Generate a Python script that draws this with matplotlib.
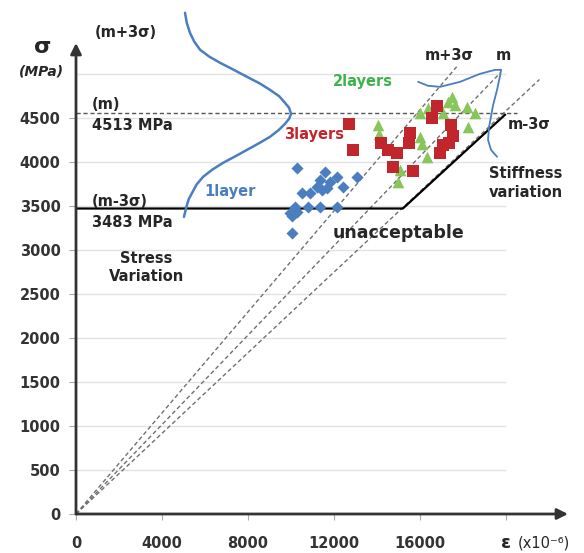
import matplotlib
matplotlib.use("Agg")
import matplotlib.pyplot as plt

# tick values (the 20000 tick carries no label, the axis symbol sits there)
x_ticks = [0, 4000, 8000, 12000, 16000, 20000]
x_tick_labels = ["0", "4000", "8000", "12000", "16000", ""]
y_ticks = [0, 500, 1000, 1500, 2000, 2500, 3000, 3500, 4000, 4500]
grid_levels = [500, 1000, 1500, 2000, 2500, 3000, 3500, 4000, 4500, 5000]

# 1 layer (blue diamonds): strain (x10^-6), stress (MPa)
one_x = [10270, 11580, 12130, 13060, 11350, 11810, 11660, 11200, 11430, 12430,
         10500, 10880, 10190, 10800, 11350, 12130, 9950, 10270, 10030, 10030]
one_y = [3930, 3890, 3830, 3830, 3795, 3775, 3700, 3720, 3680, 3720,
         3645, 3645, 3490, 3490, 3490, 3490, 3420, 3435, 3380, 3190]

# 2 layers (green triangles)
two_x = [14050, 14090, 16000, 16370, 16000, 16090, 16330, 15070, 14980, 17490,
         17300, 17630, 18190, 18560, 17070, 18230]
two_y = [4420, 4320, 4560, 4610, 4285, 4205, 4060, 3910, 3775, 4740,
         4680, 4650, 4625, 4560, 4560, 4400]

# 3 layers (red squares)
three_x = [12700, 12880, 14190, 14510, 14930, 15540, 15490, 14740, 15670, 16790,
           16560, 17440, 17540, 17070, 16930, 17350]
three_y = [4430, 4135, 4215, 4135, 4100, 4330, 4215, 3945, 3900, 4635,
           4500, 4420, 4295, 4195, 4100, 4215]

# stress statistics
stress_mean_label = 4513
stress_min_label = 3483
mean_line = 4550

# stiffness lines from origin: modulus (MPa per 1e-6 strain) and end strain
moduli = [0.287, 0.254, 0.229]
line_end_x = [17700, 19720, 21550]

# acceptance boundary (m-3 sigma)
bound_x = [0, 15200, 19950]
bound_y = [3470, 3470, 4535]

# stress distribution curve
bell_x = [5070, 5150, 5300, 5500, 5770, 6200, 6700, 7300, 7950, 8550, 9020, 9450,
          9720, 9910, 10000, 9910, 9720, 9420, 9020, 8500, 7950, 7400, 6840,
          6330, 5910, 5600, 5400, 5240, 5160, 5020]
bell_y = [5693, 5580, 5466, 5365, 5273, 5195, 5125, 5050, 4966, 4890, 4818, 4745,
          4670, 4614, 4545, 4489, 4432, 4360, 4284, 4210, 4136, 4062, 3989,
          3910, 3830, 3740, 3648, 3575, 3511, 3375]

# stiffness distribution curve
stiff_x = [15910, 16370, 16930, 17860, 18790, 19490, 19770, 19720, 19580, 19400,
           19210, 19160, 19300, 19580]
stiff_y = [4909, 4864, 4852, 4909, 5000, 5045, 5045, 4977, 4818, 4648,
           4398, 4250, 4136, 4057]

blue = "#4a7ebf"
red = "#c0262c"
green = "#86c65a"
dark = "#262626"

fig = plt.figure(figsize=(5.84, 5.53), dpi=100)
ax = fig.add_axes([76 / 584, 39 / 553, 492 / 584, 471 / 553])
ax.set_xlim(0, 22880)
ax.set_ylim(0, 5350)
for s in ax.spines.values():
    s.set_visible(False)

# grid
ax.hlines(grid_levels, 0, 20000, color="#e3e3e3", lw=1, zorder=0)

# axes with arrows
ax.annotate("", xy=(22880, 0), xytext=(0, 0), annotation_clip=False,
            arrowprops=dict(arrowstyle="-|>", color="#333333", lw=2,
                            mutation_scale=16, shrinkA=0, shrinkB=0))
ax.annotate("", xy=(0, 5350), xytext=(0, 0), annotation_clip=False,
            arrowprops=dict(arrowstyle="-|>", color="#333333", lw=2,
                            mutation_scale=16, shrinkA=0, shrinkB=0))

ax.set_xticks(x_ticks)
ax.set_xticklabels(x_tick_labels)
ax.set_yticks(y_ticks)
ax.set_yticklabels([str(v) for v in y_ticks])
ax.tick_params(axis="x", length=4, color="#aaaaaa", pad=12, labelsize=10.5,
               labelcolor="#333333")
ax.tick_params(axis="y", length=5, color="#aaaaaa", pad=6, labelsize=10.5,
               labelcolor="#333333")
for lab in ax.get_xticklabels() + ax.get_yticklabels():
    lab.set_fontweight("bold")

# dashed stiffness lines
for k, xe in zip(moduli, line_end_x):
    ax.plot([0, xe], [0, k * xe], color="#707070", lw=1,
            linestyle=(0, (3, 2)), clip_on=False, zorder=1)

# mean dashed line and m-3sigma boundary
ax.plot([0, 20500], [mean_line, mean_line], color="#555555", lw=1,
        linestyle=(0, (3, 2)), zorder=1)
ax.plot(bound_x, bound_y, color="black", lw=1.6, zorder=2)

# distribution curves
ax.plot(bell_x, bell_y, color=blue, lw=1.8, clip_on=False,
        solid_joinstyle="round", solid_capstyle="round", zorder=3)
ax.plot(stiff_x, stiff_y, color=blue, lw=1.3, clip_on=False,
        solid_joinstyle="round", solid_capstyle="round", zorder=3)

# data points
ax.scatter(one_x, one_y, marker="D", s=38, color=blue, lw=0, zorder=4)
ax.scatter(two_x, two_y, marker="^", s=70, color=green, lw=0, zorder=4)
ax.scatter(three_x, three_y, marker="s", s=80, color=red, lw=0, zorder=5)

# labels
tk = dict(color=dark, fontweight="bold", fontsize=10.5)
ax.text(-1535, 5307, "σ", ha="center", va="center", color=dark,
        fontweight="bold", fontsize=16)
ax.text(-1600, 5023, "(MPa)", ha="center", va="center", color=dark,
        fontweight="bold", fontstyle="italic", fontsize=10)
ax.text(880, 5466, "(m+3σ)", ha="left", va="center", **tk)
ax.text(744, 4648, "(m)", ha="left", va="center", **tk)
ax.text(744, 4409, f"{stress_mean_label} MPa", ha="left", va="center", **tk)
ax.text(744, 3545, "(m-3σ)", ha="left", va="center", **tk)
ax.text(744, 3307, f"{stress_min_label} MPa", ha="left", va="center", **tk)
ax.text(3280, 2800, "Stress\nVariation", ha="center", va="center",
        multialignment="center", linespacing=1.3, **tk)
ax.text(7160, 3659, "1layer", ha="center", va="center", color=blue,
        fontweight="bold", fontsize=10.5)
ax.text(11070, 4307, "3layers", ha="center", va="center", color=red,
        fontweight="bold", fontsize=10.5)
ax.text(13350, 4909, "2layers", ha="center", va="center", color="#3cb34a",
        fontweight="bold", fontsize=10.5)
ax.text(17370, 5205, "m+3σ", ha="center", va="center", **tk)
ax.text(19880, 5205, "m", ha="center", va="center", **tk)
ax.text(20090, 4420, "m-3σ", ha="left", va="center", **tk)
ax.text(20930, 3760, "Stiffness\nvariation", ha="center", va="center",
        multialignment="left", linespacing=1.3, **tk)
ax.text(14977, 3193, "unacceptable", ha="center", va="center", color=dark,
        fontweight="bold", fontsize=12.5)
ax.text(20000, -330, "ε", ha="center", va="center", color=dark,
        fontweight="bold", fontsize=13)
ax.text(20560, -330, "(x10⁻⁶)", ha="left", va="center", color=dark,
        fontsize=10.5)

fig.savefig("out.png", dpi=100)
